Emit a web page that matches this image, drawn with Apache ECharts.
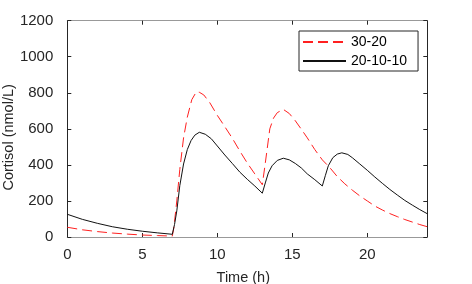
<!DOCTYPE html>
<html>
<head>
<meta charset="utf-8">
<script src="https://cdn.jsdelivr.net/npm/echarts@6/dist/echarts.min.js"></script>
<style>html,body{margin:0;padding:0;background:#fff;}#c{width:472px;height:284px;}</style>
</head>
<body>
<div id="c"></div>
<script>
const xTicks = [0, 5, 10, 15, 20];
const yTicks = [0, 200, 400, 600, 800, 1000, 1200];
const seriesNames = ['30-20', '20-10-10'];
const xTitle = 'Time (h)';
const yTitle = 'Cortisol (nmol/L)';

// 30-20 (red dashed)
const redTime = [0,1,2,3,4,5,6,7,7.1,7.3,7.5,7.75,8,8.3,8.6,8.8,9.1,9.5,10,10.5,11,11.5,12,12.5,13,13.2,13.5,13.75,14,14.4,14.8,15.2,15.6,16,16.5,17,17.5,18,18.5,19,19.5,20,20.5,21,21.5,22,22.5,23,23.5,24];
const redVal  = [54,40,30,22,16,11,8,5,50,200,375,550,665,762,805,803,788,745,675,612,548,477,410,350,290,410,600,660,690,708,685,645,598,550,485,428,385,335,295,260,228,200,172,150,130,113,97,83,69,57];

// 20-10-10 (black solid)
const blackTime = [0,1,2,3,4,5,6,7,7.15,7.3,7.5,7.75,8,8.25,8.5,8.8,9.2,9.6,10,10.5,11,11.5,12,12.5,13,13.2,13.4,13.65,14,14.4,14.8,15.2,15.6,16,16.5,17,17.2,17.4,17.7,18,18.3,18.7,19,19.5,20,20.5,21,21.5,22,22.5,23,23.5,24];
const blackVal  = [126,98,76,57,43,32,23,15,70,145,285,405,485,535,565,581,570,545,505,455,408,360,320,283,243,300,355,395,425,437,428,408,383,350,318,283,340,395,440,460,467,458,440,405,370,333,298,264,233,203,177,152,129];

const chart = echarts.init(document.getElementById('c'), null, {renderer: 'canvas'});
const font = "'Liberation Sans', Arial, Helvetica, sans-serif";
const txt = '#262626';
const xMin = xTicks[0], xMax = 24;
const yMin = yTicks[0], yMax = yTicks[yTicks.length - 1];

const xCommon = {
  type: 'value', min: xMin, max: xMax, interval: 5,
  splitLine: {show: false},
  axisTick: {show: true, inside: true, length: 4, lineStyle: {color: txt}},
};
const yCommon = {
  type: 'value', min: yMin, max: yMax, interval: 200,
  splitLine: {show: false},
  axisTick: {show: true, inside: true, length: 4, lineStyle: {color: txt}},
};

chart.setOption({
  backgroundColor: '#fff',
  animation: false,
  textStyle: {fontFamily: font},
  grid: {left: 67.3, right: 44.7, top: 20.7, bottom: 47, containLabel: false, outerBoundsMode: 'none'},
  legend: {
    data: seriesNames,
    orient: 'vertical',
    left: 299, top: 31,
    itemWidth: 43, itemHeight: 14, itemGap: 5,
    padding: [4, 11, 3, 3],
    borderColor: txt, borderWidth: 1, backgroundColor: '#fff',
    itemStyle: {opacity: 0},
    textStyle: {fontSize: 14, color: '#000', fontFamily: font}
  },
  xAxis: [
    Object.assign({}, xCommon, {
      position: 'bottom',
      name: xTitle, nameLocation: 'middle', nameGap: 33, nameMoveOverlap: false,
      nameTextStyle: {fontSize: 14.5, color: txt, fontFamily: font, padding: [0, 8, 0, 0]},
      axisLine: {show: true, onZero: false, lineStyle: {color: '#999', width: 1}},
      axisLabel: {show: true, fontSize: 15, color: txt, margin: 10, fontFamily: font,
        formatter: v => xTicks.includes(v) ? String(v) : ''}
    }),
    Object.assign({}, xCommon, {
      position: 'top',
      axisLine: {show: true, onZero: false, lineStyle: {color: '#999', width: 1}},
      axisLabel: {show: false}
    })
  ],
  yAxis: [
    Object.assign({}, yCommon, {
      position: 'left',
      name: yTitle, nameLocation: 'middle', nameGap: 51, nameMoveOverlap: false,
      nameTextStyle: {fontSize: 14.5, color: txt, fontFamily: font, padding: [0, 17, 0, 0]},
      axisLine: {show: true, onZero: false, lineStyle: {color: txt, width: 1}},
      axisLabel: {show: true, fontSize: 15, color: txt, margin: 14, fontFamily: font,
        formatter: v => yTicks.includes(v) ? String(v) : ''}
    }),
    Object.assign({}, yCommon, {
      position: 'right',
      axisLine: {show: true, onZero: false, lineStyle: {color: txt, width: 1}},
      axisLabel: {show: false}
    })
  ],
  series: [
    {
      name: seriesNames[0], type: 'line', symbol: 'none', showSymbol: false, smooth: false,
      xAxisIndex: 0, yAxisIndex: 0,
      data: redTime.map((t, i) => [t, redVal[i]]),
      lineStyle: {color: '#ff2020', width: 1, type: [10, 5]},
      itemStyle: {color: '#ff2020'}
    },
    {
      name: seriesNames[1], type: 'line', symbol: 'none', showSymbol: false, smooth: false,
      xAxisIndex: 0, yAxisIndex: 0,
      data: blackTime.map((t, i) => [t, blackVal[i]]),
      lineStyle: {color: '#111', width: 1, type: 'solid'},
      itemStyle: {color: '#111'}
    }
  ]
});
</script>
</body>
</html>
